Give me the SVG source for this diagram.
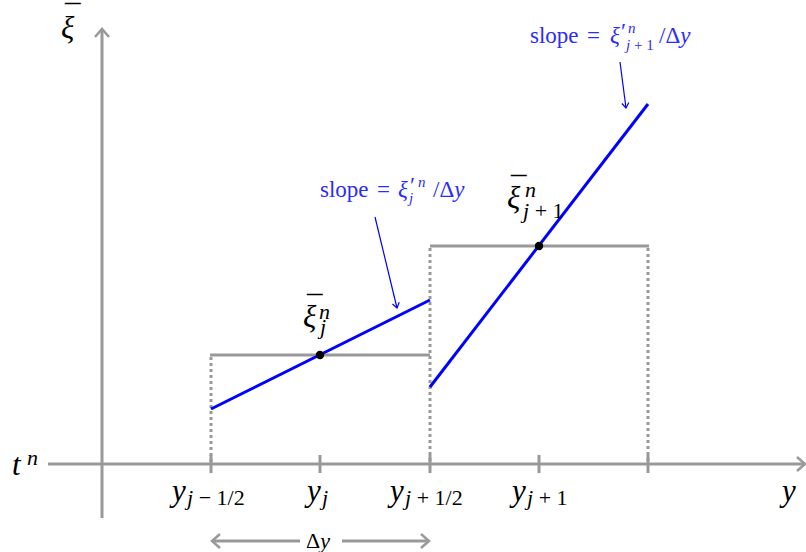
<svg xmlns="http://www.w3.org/2000/svg" width="806" height="552" viewBox="0 0 806 552">
<style>
.ax{stroke:#999;stroke-width:3;fill:none}
.cell{stroke:#999;stroke-width:3;fill:none}
.dot{stroke:#999;stroke-width:3;stroke-dasharray:3 3;fill:none}
.rec{stroke:#0000ff;stroke-width:3;fill:none}
.ptr{stroke:#0000ff;stroke-width:1.2;fill:none}
.m{font-family:"Liberation Serif","DejaVu Serif",serif;font-style:italic;font-size:31px;fill:#000}
.r{font-style:normal}
.s{font-size:22px}
.b{font-family:"Liberation Serif","DejaVu Serif",serif;font-size:23px;fill:#2b2bff}
.bi{font-style:italic}
.bs{font-size:15px;font-style:italic}
</style>
<defs>
<marker id="ga" markerUnits="userSpaceOnUse" markerWidth="20" markerHeight="20" refX="12" refY="10" orient="auto">
<path d="M4,3 L12,10 L4,17" stroke="#999" stroke-width="2.5" fill="none"/>
</marker>
<marker id="ba" markerUnits="userSpaceOnUse" markerWidth="12" markerHeight="12" refX="8" refY="6" orient="auto">
<path d="M3,2.5 L8,6 L3,9.5" stroke="#0000ff" stroke-width="1.2" fill="none"/>
</marker>
</defs>
<g id="connectors">
<line class="ax" x1="102" y1="518" x2="102" y2="29" marker-end="url(#ga)"/>
<line class="ax" x1="48" y1="464" x2="805" y2="464" marker-end="url(#ga)"/>
<line class="ax" x1="211" y1="455" x2="211" y2="473"/>
<line class="ax" x1="320" y1="455" x2="320" y2="473"/>
<line class="ax" x1="430" y1="455" x2="430" y2="473"/>
<line class="ax" x1="539" y1="455" x2="539" y2="473"/>
<line class="ax" x1="648" y1="455" x2="648" y2="473"/>
<line class="ax" x1="300" y1="541" x2="212" y2="541" marker-end="url(#ga)"/>
<line class="ax" x1="342" y1="541" x2="429" y2="541" marker-end="url(#ga)"/>
<line class="ptr" x1="375" y1="217" x2="397" y2="308" marker-end="url(#ba)"/>
<line class="ptr" x1="620" y1="62" x2="626" y2="108" marker-end="url(#ba)"/>
</g>
<g id="cell-j">
<line class="dot" x1="211" y1="357" x2="211" y2="464"/>
<line class="cell" x1="210" y1="355" x2="430" y2="355"/>
<line class="rec" x1="211" y1="409" x2="430" y2="300"/>
<circle cx="320" cy="355" r="4.2" fill="#000"/>
</g>
<g id="cell-j1">
<line class="dot" x1="430" y1="248" x2="430" y2="464"/>
<line class="dot" x1="648" y1="248" x2="648" y2="464"/>
<line class="cell" x1="430" y1="246" x2="649" y2="246"/>
<line class="rec" x1="430" y1="387" x2="648" y2="104"/>
<circle cx="539" cy="246" r="4.2" fill="#000"/>
</g>
<g id="labels">
<text class="m" x="61" y="38">ξ<tspan class="r" x="65" y="27">¯</tspan></text>
<text class="m" x="12" y="475">t<tspan class="s" x="27" y="465">n</tspan></text>
<text class="m" x="172" y="501">y<tspan class="s" x="187" y="505">j<tspan class="r"> − 1/2</tspan></tspan></text>
<text class="m" x="307" y="501">y<tspan class="s" x="322" y="505">j</tspan></text>
<text class="m" x="390" y="501">y<tspan class="s" x="405" y="505">j<tspan class="r"> + 1/2</tspan></tspan></text>
<text class="m" x="512" y="501">y<tspan class="s" x="527" y="505">j<tspan class="r"> + 1</tspan></tspan></text>
<text class="m" x="782" y="501">y</text>
<text class="m" x="306" y="548" style="font-size:22px"><tspan class="r">Δ</tspan>y</text>
<text class="m" x="303" y="327">ξ<tspan class="r" x="307" y="318">¯</tspan><tspan class="s" x="319" y="319">n</tspan><tspan class="s" x="320" y="334">j</tspan></text>
<text class="m" x="507" y="208">ξ<tspan class="r" x="511" y="199">¯</tspan><tspan class="s" x="525" y="197">n</tspan><tspan class="s" x="523" y="218">j<tspan class="r"> + 1</tspan></tspan></text>
<text class="b" x="320" y="197">slope<tspan x="377">=</tspan><tspan class="bi" x="398">ξ</tspan><tspan x="410" y="193">′</tspan><tspan class="bs" x="418" y="187">n</tspan><tspan class="bs" x="409" y="203">j</tspan><tspan x="433" y="197">/Δ</tspan><tspan class="bi">y</tspan></text>
<text class="b" x="530" y="43">slope<tspan x="587">=</tspan><tspan class="bi" x="610">ξ</tspan><tspan x="621" y="39">′</tspan><tspan class="bs" x="628" y="33">n</tspan><tspan class="bs" x="626" y="50">j<tspan font-style="normal"> + 1</tspan></tspan><tspan x="659" y="43">/Δ</tspan><tspan class="bi">y</tspan></text>
</g>
</svg>
